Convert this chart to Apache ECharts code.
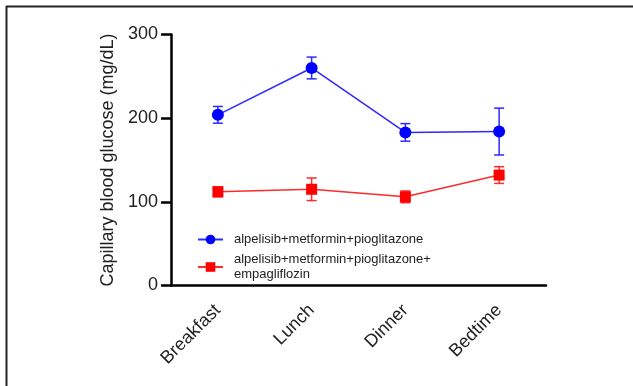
<!DOCTYPE html>
<html>
<head>
<meta charset="utf-8">
<script src="https://cdn.jsdelivr.net/npm/echarts@6/dist/echarts.min.js"></script>
<style>html,body{margin:0;padding:0;background:#fff}#c{width:633px;height:386px}</style>
</head>
<body>
<div id="c"></div>
<script>
const categories = ['Breakfast', 'Lunch', 'Dinner', 'Bedtime'];
const seriesNames = ['alpelisib+metformin+pioglitazone', 'alpelisib+metformin+pioglitazone+\nempagliflozin'];
const blueMean = [204, 260, 183, 184];
const blueErr = [10, 13, 10.5, 28];
const redMean = [112, 115, 106, 132];
const redErr = [6, 13.5, 7, 10];
const yTicks = [0, 100, 200, 300];

const font = 'Liberation Sans, Arial, sans-serif';
function errData(mean, err) { return mean.map((m, i) => [i, m - err[i], m + err[i]]); }
function errSeries(mean, err, color) {
  return {
    type: 'custom', silent: true, z: 3,
    data: errData(mean, err),
    renderItem: function (params, api) {
      const lo = api.coord([api.value(0), api.value(1)]);
      const hi = api.coord([api.value(0), api.value(2)]);
      const hw = 5;
      const st = { stroke: color, lineWidth: 1.5 };
      return { type: 'group', children: [
        { type: 'line', shape: { x1: lo[0], y1: lo[1], x2: hi[0], y2: hi[1] }, style: st },
        { type: 'line', shape: { x1: lo[0] - hw, y1: lo[1], x2: lo[0] + hw, y2: lo[1] }, style: st },
        { type: 'line', shape: { x1: hi[0] - hw, y1: hi[1], x2: hi[0] + hw, y2: hi[1] }, style: st }
      ]};
    }
  };
}
const chart = echarts.init(document.getElementById('c'), null, { renderer: 'canvas' });
chart.setOption({
  animation: false,
  backgroundColor: '#fff',
  grid: { left: 171, right: 87, top: 34.5, bottom: 100.5 },
  graphic: [
    { type: 'line', shape: { x1: 6.5, y1: 6, x2: 6.5, y2: 386 }, style: { stroke: '#222', lineWidth: 2 } },
    { type: 'line', shape: { x1: 6, y1: 6.5, x2: 633, y2: 6.5 }, style: { stroke: '#222', lineWidth: 2 } }
  ],
  legend: {
    orient: 'vertical', left: 192, top: 227, itemGap: 5, itemWidth: 25, itemHeight: 12,
    data: seriesNames,
    textStyle: { fontFamily: font, fontSize: 13, color: '#222', lineHeight: 15, padding: [0, 0, 0, 6] }
  },
  xAxis: {
    type: 'category', data: categories, boundaryGap: true,
    axisLine: { lineStyle: { color: '#000', width: 2.5 } },
    axisTick: { alignWithLabel: true, length: 10, lineStyle: { color: '#000', width: 2.5 } },
    axisLabel: { rotate: 45, fontFamily: font, fontSize: 18, color: '#222', margin: 22 }
  },
  yAxis: {
    type: 'value', min: yTicks[0], max: yTicks[yTicks.length - 1], interval: 100,
    name: 'Capillary blood glucose (mg/dL)', nameLocation: 'middle', nameGap: 52,
    nameTextStyle: { fontFamily: font, fontSize: 18, color: '#222' },
    splitLine: { show: false },
    axisLine: { show: true, lineStyle: { color: '#000', width: 2.5 } },
    axisTick: { show: true, length: 10, lineStyle: { color: '#000', width: 2.5 } },
    axisLabel: { fontFamily: font, fontSize: 18, color: '#222', margin: 13 }
  },
  series: [
    errSeries(blueMean, blueErr, '#2a2aff'),
    errSeries(redMean, redErr, '#ff2a2a'),
    { name: seriesNames[0], type: 'line', data: blueMean, z: 4, symbol: 'circle', symbolSize: 12,
      itemStyle: { color: '#0000ff' }, lineStyle: { color: '#2a2aff', width: 1.5 } },
    { name: seriesNames[1], type: 'line', data: redMean, z: 4, symbol: 'rect', symbolSize: 11,
      itemStyle: { color: '#ff0000' }, lineStyle: { color: '#ff2a2a', width: 1.5 } }
  ]
});
</script>
</body>
</html>
